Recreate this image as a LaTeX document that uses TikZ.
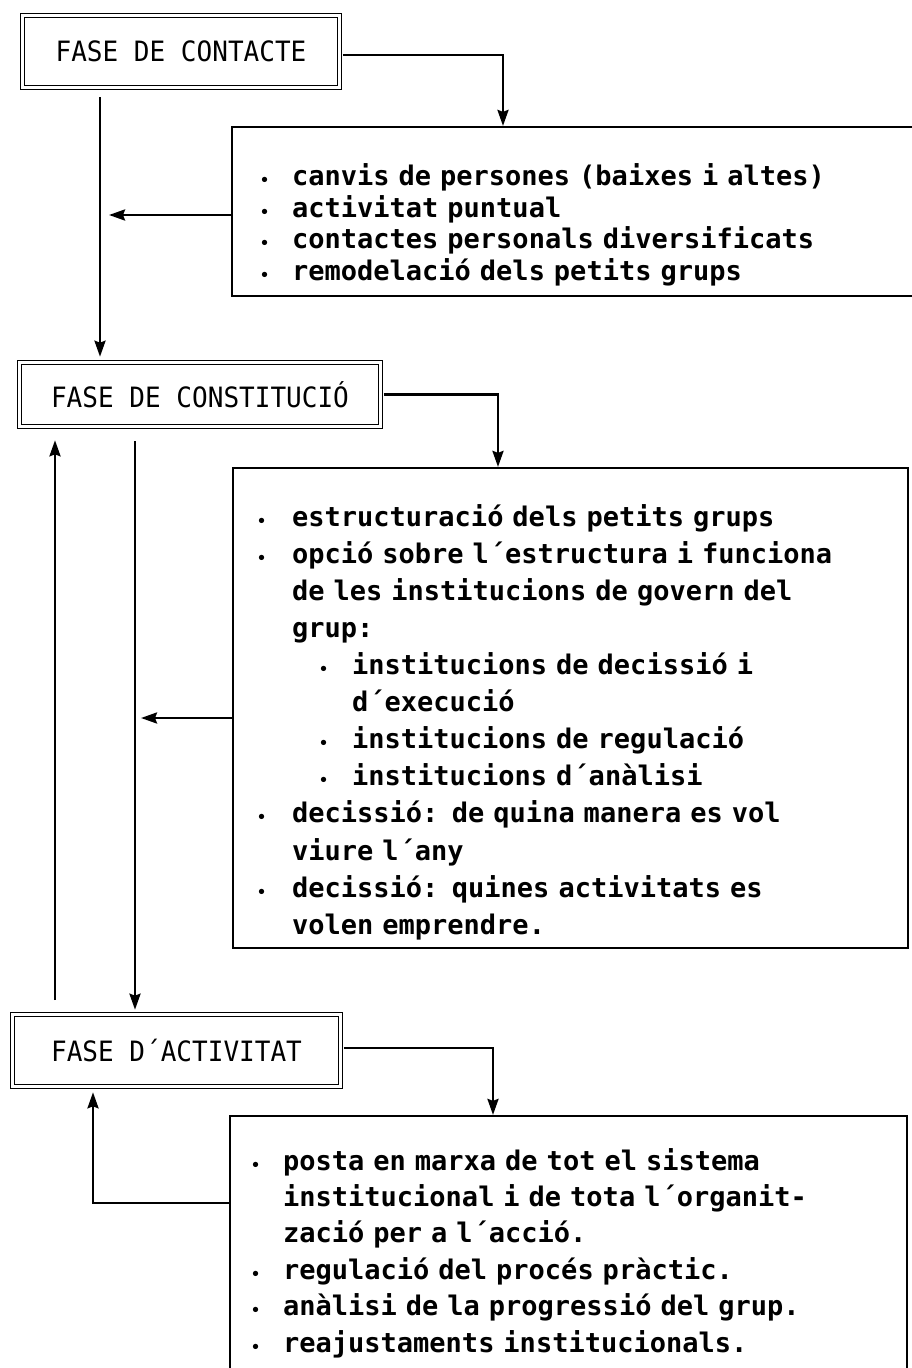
\documentclass[tikz,border=0pt]{standalone}
\usepackage{fontspec}
\usetikzlibrary{arrows.meta,calc}
\newfontfamily\bodyfont{DejaVu Sans Mono Bold}
\newfontfamily\headfont[FakeStretch=0.93]{DejaVu Sans Mono}
% bullet set in a box of the given width, text follows at its right edge
\newcommand{\bul}[1][33pt]{\makebox[#1][l]{\hspace{1pt}{\fontsize{15}{15}\selectfont •}}}

\tikzset{
  phase/.style={draw, double, double distance=2.4pt, line width=1.6pt, inner sep=0pt,
    font=\headfont\fontsize{28}{30}\selectfont},
  listbox/.style={draw, line width=2.2pt, inner sep=0pt},
  listtext/.style={anchor=north west, inner sep=0pt, align=left, text width=640pt},
  link/.style={line width=2.6pt},
  arr/.style={link, -{Stealth[length=16pt, width=11pt, inset=2pt]}},
}

\begin{document}
\begin{tikzpicture}[x=1pt, y=-1pt]
\useasboundingbox (0,0) rectangle (912,1368);
\fill[white] (0,0) rectangle (912,1368);

% phases
\node[phase, minimum width=317pt, minimum height=72pt] (B1) at (181,51.5) {FASE DE CONTACTE};
\node[phase, minimum width=361pt, minimum height=64pt] (B3) at (200,394.5) {FASE DE CONSTITUCIÓ};
\node[phase, minimum width=328pt, minimum height=72pt] (B5) at (176.5,1050.5) {FASE D´ACTIVITAT};

% description frames
\node[listbox, minimum width=698pt, minimum height=169pt] (b2) at (581,211.5) {};
\node[listbox, minimum width=675pt, minimum height=480pt] (b4) at (570.5,708) {};
\node[listbox, minimum width=677pt, minimum height=284pt] (b6) at (568.5,1258) {};

% description texts
\node[listtext, font=\bodyfont\fontsize{27}{31.3}\selectfont] (t2) at (259,163) {\strut
\bul canvis de persones (baixes i altes)\\
\bul activitat puntual\\
\bul contactes personals diversificats\\
\bul remodelació dels petits grups};

\node[listtext, font=\bodyfont\fontsize{27}{37.1}\selectfont] (t4) at (256,500) {\strut
\bul[36pt]estructuració dels petits grups\\
\bul[36pt]opció sobre l´estructura i funciona\\
\hspace*{36pt}de les institucions de govern del\\
\hspace*{36pt}grup:\\
\hspace*{62pt}\bul[34pt]institucions de decissió i\\
\hspace*{96pt}d´execució\\
\hspace*{62pt}\bul[34pt]institucions de regulació\\
\hspace*{62pt}\bul[34pt]institucions d´anàlisi\\
\bul[36pt]decissió: de quina manera es vol\\
\hspace*{36pt}viure l´any\\
\bul[36pt]decissió: quines activitats es\\
\hspace*{36pt}volen emprendre.};

\node[listtext, font=\bodyfont\fontsize{27}{36.4}\selectfont] (t6) at (250,1144.5) {\strut
\bul posta en marxa de tot el sistema\\
\hspace*{33pt}institucional i de tota l´organit-\\
\hspace*{33pt}zació per a l´acció.\\
\bul regulació del procés pràctic.\\
\bul anàlisi de la progressió del grup.\\
\bul reajustaments institucionals.};

% connector columns
\coordinate (c1) at (503,0);
\coordinate (c2) at (498,0);
\coordinate (c3) at (493,0);
\coordinate (k1) at (100,0);
\coordinate (k2) at (135,0);
\coordinate (k4) at (93,0);
\coordinate (u0) at (55,1000);

% contact phase
\draw[arr, shorten <=2.5pt] ([yshift=-3.5pt]B1.east) -| (c1 |- b2.north);
\draw[arr] ([yshift=-3.5pt]b2.west) -- ($(k1 |- b2.west)+(9,3.5)$);
\draw[arr, shorten <=9pt, shorten >=5pt] (k1 |- B1.south) -- (k1 |- B3.north);

% constitution phase
\draw[arr, shorten <=2.5pt] (B3.east) -| (c2 |- b4.north);
\draw[arr] ([yshift=-10pt]b4.west) -- ($(k2 |- b4.west)+(6,10)$);
\draw[arr, shorten <=14pt, shorten >=4pt] (k2 |- B3.south) -- (k2 |- B5.north);
\draw[arr, shorten >=13pt] (u0) -- (u0 |- B3.south);

% activity phase
\draw[arr, shorten <=2.5pt] ([yshift=2.5pt]B5.east) -| (c3 |- b6.north);
\draw[arr, shorten >=5pt] ([yshift=55pt]b6.west) -| (k4 |- B5.south);
\end{tikzpicture}
\end{document}
